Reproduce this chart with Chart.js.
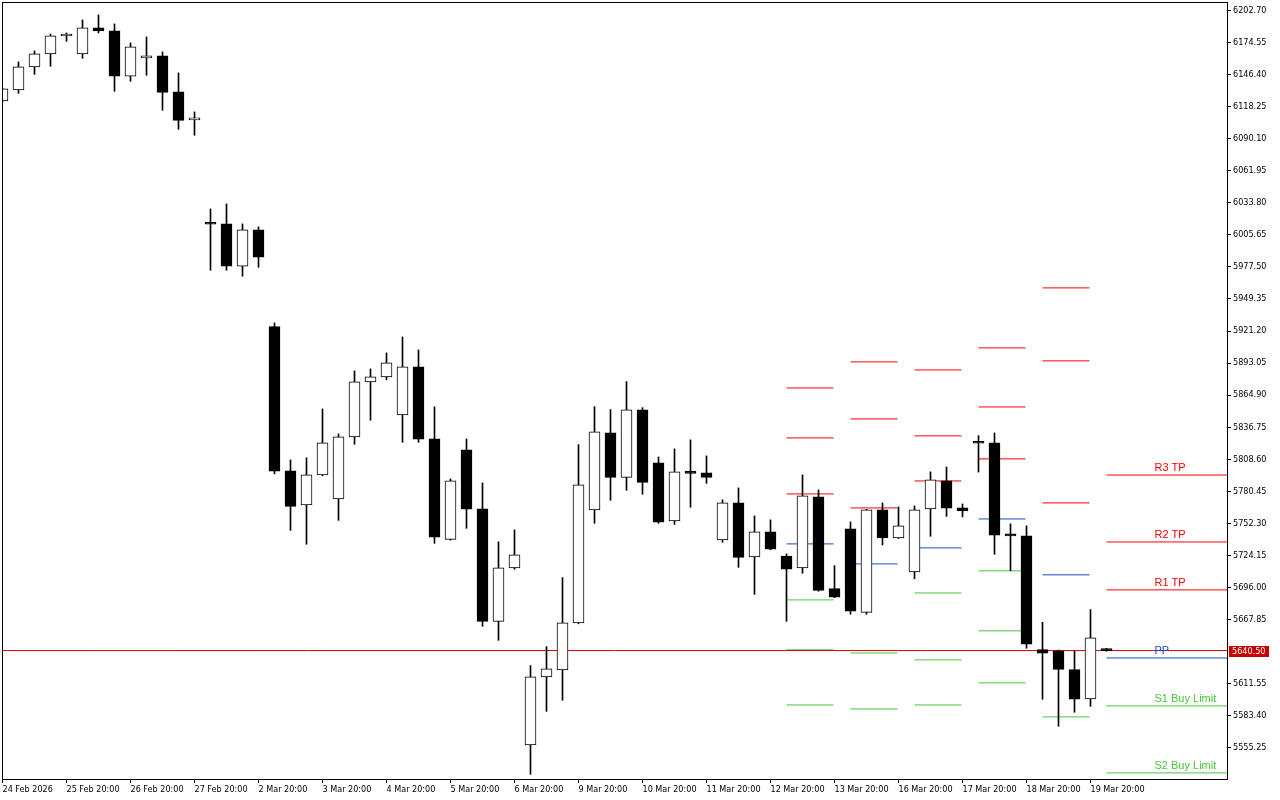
<!DOCTYPE html>
<html>
<head>
<meta charset="utf-8">
<title>Candles with daily pivots</title>
<script src="https://cdn.jsdelivr.net/npm/chart.js@4.4.1/dist/chart.umd.min.js"></script>
<style>
  html, body { margin: 0; padding: 0; background: #fff; }
</style>
</head>
<body>
<canvas id="priceChart" width="1280" height="800"></canvas>
<script>
// time labels, one every 4 bars
var timeLabels = ['24 Feb 2026', '25 Feb 20:00', '26 Feb 20:00', '27 Feb 20:00', '2 Mar 20:00',
    '3 Mar 20:00', '4 Mar 20:00', '5 Mar 20:00', '6 Mar 20:00', '9 Mar 20:00', '10 Mar 20:00',
    '11 Mar 20:00', '12 Mar 20:00', '13 Mar 20:00', '16 Mar 20:00', '17 Mar 20:00',
    '18 Mar 20:00', '19 Mar 20:00'];
var timeLabelBars = [0, 4, 8, 12, 16, 20, 24, 28, 32, 36, 40, 44, 48, 52, 56, 60, 64, 68];

// OHLC, one entry per bar
var opens = [6123.4, 6133.0, 6153.2, 6164.7, 6180.4, 6164.7, 6187.5, 6184.9, 6145.0, 6161.1,
    6162.9, 6131.3, 6106.7, 6016.5, 6015.3, 5978.1, 6010.0, 5925.1, 5798.3, 5768.5,
    5794.8, 5773.7, 5828.2, 5876.5, 5880.9, 5847.5, 5889.7, 5826.4, 5738.2, 5816.8,
    5764.9, 5666.2, 5713.1, 5557.6, 5617.4, 5623.5, 5664.8, 5764.1, 5831.7, 5792.7,
    5851.9, 5805.4, 5754.4, 5797.7, 5796.6, 5737.7, 5770.2, 5722.8, 5744.7, 5723.6,
    5713.1, 5775.5, 5694.9, 5747.4, 5674.1, 5764.1, 5739.5, 5709.6, 5764.9, 5789.5,
    5765.8, 5824.1, 5822.9, 5743.0, 5741.2, 5641.3, 5640.2, 5623.8, 5598.0, 5642.2];
var highs = [6134.5, 6157.6, 6167.3, 6182.2, 6183.1, 6194.5, 6198.9, 6191.0, 6174.3, 6179.6,
    6166.4, 6148.0, 6113.7, 6028.5, 6032.9, 6015.3, 6012.7, 5928.3, 5808.0, 5809.8,
    5852.8, 5830.8, 5886.2, 5887.9, 5902.0, 5916.0, 5904.6, 5854.6, 5791.3, 5826.4,
    5787.8, 5736.0, 5746.5, 5627.3, 5644.0, 5704.6, 5821.4, 5854.8, 5852.2, 5876.8,
    5853.9, 5810.6, 5817.7, 5825.6, 5811.5, 5772.9, 5783.4, 5758.8, 5755.3, 5725.4,
    5794.8, 5781.6, 5715.1, 5753.5, 5764.6, 5770.2, 5766.7, 5767.6, 5797.5, 5801.8,
    5769.3, 5829.3, 5831.7, 5751.8, 5750.0, 5665.3, 5641.0, 5640.2, 5676.5, 5642.5];
var lows = [6122.8, 6130.0, 6146.7, 6153.8, 6175.7, 6160.8, 6183.1, 6131.8, 6140.6, 6145.9,
    6115.1, 6098.4, 6093.2, 5974.6, 5974.6, 5969.3, 5977.2, 5795.7, 5746.1, 5733.9,
    5794.0, 5754.9, 5821.7, 5842.8, 5878.3, 5823.5, 5823.5, 5734.7, 5737.5, 5747.9,
    5661.8, 5649.5, 5711.9, 5531.8, 5587.1, 5596.8, 5664.0, 5752.3, 5772.5, 5781.3,
    5777.8, 5752.3, 5751.4, 5766.4, 5787.4, 5735.6, 5713.6, 5689.9, 5729.0, 5666.2,
    5708.4, 5692.6, 5687.0, 5672.4, 5672.4, 5733.3, 5739.0, 5703.5, 5740.9, 5758.4,
    5757.9, 5797.3, 5725.1, 5710.6, 5642.5, 5597.7, 5574.0, 5586.3, 5591.5, 5640.0];
var closes = [6133.9, 6153.2, 6164.7, 6180.5, 6180.6, 6187.5, 6184.9, 6145.0, 6170.8, 6162.9,
    6130.9, 6106.3, 6108.4, 6015.0, 5978.1, 6010.0, 5986.0, 5798.0, 5767.2, 5794.8,
    5822.9, 5828.2, 5876.5, 5880.9, 5893.2, 5889.7, 5826.1, 5740.0, 5789.5, 5764.6,
    5666.2, 5713.1, 5724.5, 5617.4, 5624.4, 5664.8, 5786.0, 5832.6, 5792.7, 5851.9,
    5788.3, 5753.2, 5797.5, 5796.2, 5792.7, 5770.2, 5722.4, 5744.7, 5729.5, 5711.9,
    5776.4, 5693.4, 5687.3, 5675.0, 5764.1, 5739.5, 5750.0, 5764.1, 5790.4, 5765.5,
    5763.2, 5822.6, 5741.8, 5741.1, 5646.0, 5638.1, 5624.0, 5597.7, 5651.6, 5640.5];

var priceTicks = [6202.70, 6174.55, 6146.40, 6118.25, 6090.10, 6061.95, 6033.80, 6005.65,
    5977.50, 5949.35, 5921.20, 5893.05, 5864.90, 5836.75, 5808.60, 5780.45, 5752.30,
    5724.15, 5696.00, 5667.85, 5611.55, 5583.40, 5555.25];
var lastPrice = 5640.50;

// daily pivot levels, first bar of each day
var pivotDays = [49, 53, 57, 61, 65, 69];
var r3 = [5871.2, 5894.1, 5887.0, 5906.4, 5959.1, 5794.7];
var r2 = [5827.3, 5844.0, 5829.1, 5854.5, 5895.0, 5735.9];
var r1 = [5778.1, 5765.8, 5789.5, 5808.9, 5770.2, 5693.8];
var pp = [5734.2, 5716.6, 5730.7, 5756.1, 5707.0, 5634.0];
var s1 = [5685.0, 5638.4, 5691.1, 5710.5, 5582.2, 5591.9];
var s2 = [5641.1, 5589.2, 5632.3, 5657.8, null, 5533.0];
var s3 = [5592.7, null, 5592.7, 5612.1, null, null];
var pivotNames = ['R3 TP', 'R2 TP', 'R1 TP', 'PP', 'S1 Buy Limit', 'S2 Buy Limit'];

var X_MIN = -0.03125, X_MAX = 76.53125;
var Y_MIN = 5527.66, Y_MAX = 6210.26;
var SEG_LEN = 2.94;
var LABEL_AT = 72;

var RED = '#ff0000', BLUE = '#1450c8', GREEN = '#46c83c';
var AXIS_FONT = { family: "'DejaVu Sans Condensed', 'Liberation Sans Narrow', 'DejaVu Sans'", size: 9 };

function segments(levels) {
    var pts = [];
    levels.forEach(function (v, d) {
        if (v === null) return;
        var start = pivotDays[d];
        var end = d === pivotDays.length - 1 ? X_MAX : start + SEG_LEN;
        pts.push({ x: start, y: v }, { x: end, y: v }, { x: end, y: null });
    });
    return pts;
}

function levelLine(levels, color) {
    return {
        type: 'line',
        data: segments(levels),
        borderColor: color,
        borderWidth: 1,
        pointRadius: 0,
        spanGaps: false,
        order: 5
    };
}

var overlayPlugin = {
    id: 'overlay',
    afterDraw: function (chart) {
        var ctx = chart.ctx, a = chart.chartArea, xs = chart.scales.x, ys = chart.scales.y;
        ctx.save();
        ctx.strokeStyle = '#000';
        ctx.lineWidth = 1;
        ctx.strokeRect(a.left + 0.5, a.top + 0.5, a.right - a.left, a.bottom - a.top);

        // labels of the current day's levels
        var last = pivotDays.length - 1;
        var levels = [r3[last], r2[last], r1[last], pp[last], s1[last], s2[last]];
        var colors = [RED, RED, RED, BLUE, GREEN, GREEN];
        ctx.font = "11px 'Liberation Sans'";
        ctx.textAlign = 'left';
        ctx.textBaseline = 'bottom';
        var lx = xs.getPixelForValue(LABEL_AT);
        levels.forEach(function (v, i) {
            ctx.fillStyle = colors[i];
            ctx.fillText(pivotNames[i], lx, Math.round(ys.getPixelForValue(v)) - 2);
        });

        // last price tag
        var py = Math.round(ys.getPixelForValue(lastPrice));
        ctx.fillStyle = '#c80000';
        ctx.fillRect(a.right + 2, py - 5, 40, 11);
        ctx.fillStyle = '#fff';
        ctx.font = "9px " + AXIS_FONT.family;
        ctx.textBaseline = 'middle';
        ctx.fillText(lastPrice.toFixed(2), a.right + 5, py + 0.5);
        ctx.restore();
    }
};

var ctx = document.getElementById('priceChart').getContext('2d');
var chartInstance = new Chart(ctx, {
    type: 'bar',
    data: {
        datasets: [
            {
                label: 'bodies',
                data: opens.map(function (o, i) { return { x: i, y: [o, closes[i]] }; }),
                backgroundColor: opens.map(function (o, i) { return closes[i] >= o ? '#ffffff' : '#000000'; }),
                borderColor: '#000',
                borderWidth: 1,
                borderSkipped: false,
                barThickness: 11,
                minBarLength: 2,
                grouped: false,
                order: 0
            },
            {
                label: 'wicks',
                data: lows.map(function (l, i) { return { x: i, y: [l, highs[i]] }; }),
                backgroundColor: '#000',
                borderWidth: 0,
                barThickness: 1,
                grouped: false,
                order: 1
            },
            {
                type: 'line',
                data: [{ x: X_MIN, y: lastPrice }, { x: X_MAX, y: lastPrice }],
                borderColor: '#dc0000',
                borderWidth: 1,
                pointRadius: 0,
                order: 4
            },
            levelLine(r3, RED),
            levelLine(r2, RED),
            levelLine(r1, RED),
            levelLine(pp, BLUE),
            levelLine(s1, GREEN),
            levelLine(s2, GREEN),
            levelLine(s3, GREEN)
        ]
    },
    options: {
        responsive: false,
        animation: false,
        devicePixelRatio: 1,
        layout: { padding: { left: 2, top: 2, right: 0, bottom: 0 } },
        plugins: {
            legend: { display: false },
            tooltip: { enabled: false }
        },
        scales: {
            x: {
                type: 'linear',
                min: X_MIN,
                max: X_MAX,
                bounds: 'data',
                offset: false,
                border: { display: false },
                grid: { drawOnChartArea: false, drawTicks: true, tickLength: 4, color: '#000', offset: false },
                ticks: {
                    autoSkip: false,
                    maxRotation: 0,
                    minRotation: 0,
                    align: 'start',
                    padding: 1,
                    color: '#000',
                    font: AXIS_FONT,
                    callback: function (v, i) { return timeLabels[i]; }
                },
                afterBuildTicks: function (s) {
                    s.ticks = timeLabelBars.map(function (v) { return { value: v }; });
                },
                afterFit: function (s) {
                    s.height = 21;
                    s.paddingLeft = 0;
                    s.paddingRight = 0;
                }
            },
            y: {
                position: 'right',
                min: Y_MIN,
                max: Y_MAX,
                bounds: 'data',
                border: { display: false },
                grid: { drawOnChartArea: false, drawTicks: true, tickLength: 4, color: '#000' },
                ticks: {
                    padding: 2,
                    color: '#000',
                    font: AXIS_FONT,
                    callback: function (v) { return Number(v).toFixed(2); }
                },
                afterBuildTicks: function (s) {
                    s.ticks = priceTicks.map(function (v) { return { value: v }; });
                },
                afterFit: function (s) {
                    s.width = 53;
                    s.paddingTop = 0;
                    s.paddingBottom = 0;
                }
            }
        }
    },
    plugins: [overlayPlugin]
});
</script>
</body>
</html>
